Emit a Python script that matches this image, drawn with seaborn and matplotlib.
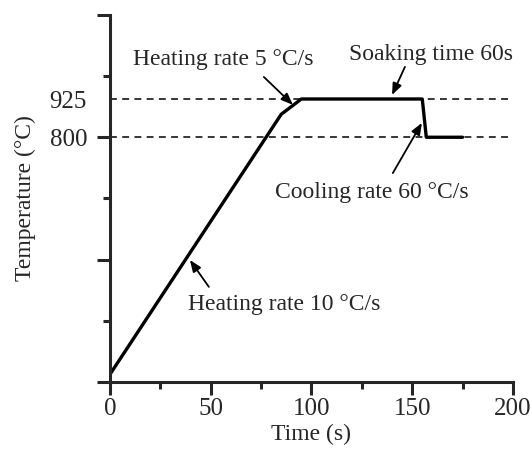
import matplotlib
matplotlib.use("Agg")
import matplotlib.pyplot as plt
import seaborn as sns
from matplotlib.ticker import FixedLocator

# Data
time_s = [0, 85, 95, 155, 157, 175]
temp_c = [25, 875, 925, 925, 800, 800]
ref_levels = [925, 800]
ytick_vals = [0, 400, 800, 925, 1200]
ytick_labels = ["", "", "800", "925", ""]
xtick_vals = [0, 50, 100, 150, 200]
xtick_labels = ["0", "50", "100", "150", "200"]

sns.set_style("ticks")
plt.rcParams["font.family"] = ["Liberation Serif", "DejaVu Serif"]

fig = plt.figure(figsize=(5.31, 4.5), dpi=100)
ax = fig.add_axes([0.207, 0.151, 0.759, 0.816])

sns.lineplot(x=time_s, y=temp_c, ax=ax, color="black", linewidth=2.4)
for lv in ref_levels:
    ax.axhline(lv, color="black", linewidth=1.1, linestyle=(0, (4.5, 3.5)), zorder=1)

ax.set_xlim(0, 200)
ax.set_ylim(0, 1200)
ax.set_xticks(xtick_vals)
ax.set_xticklabels(xtick_labels)
ax.xaxis.set_minor_locator(FixedLocator([25, 75, 125, 175]))
ax.set_yticks(ytick_vals)
ax.set_yticklabels(ytick_labels)
ax.yaxis.set_minor_locator(FixedLocator([200, 600, 1000]))
t925 = ax.yaxis.get_major_ticks()[3]
t925.tick1line.set_visible(False)

for s in ["top", "right"]:
    ax.spines[s].set_visible(False)
for s in ["left", "bottom"]:
    ax.spines[s].set_linewidth(2.2)

ax.tick_params(which="major", direction="out", length=9.5, width=2.2, labelsize=18)
ax.tick_params(axis="x", which="major", pad=2)
ax.tick_params(axis="y", which="major", pad=7)
ax.tick_params(which="minor", direction="out", length=5, width=2.2)

ax.set_xlabel("Time (s)", fontsize=17, labelpad=3)
ax.set_ylabel("Temperature (°C)", fontsize=17, labelpad=10)

fs = 17
ax.text(56.1, 1055, "Heating rate 5 °C/s", fontsize=fs, ha="center", va="center")
ax.text(159.3, 1070, "Soaking time 60s", fontsize=fs, ha="center", va="center")
ax.text(129.8, 621, "Cooling rate 60 °C/s", fontsize=fs, ha="center", va="center")
ax.text(86.6, 252, "Heating rate 10 °C/s", fontsize=fs, ha="center", va="center")

arrows = [((76.4, 997), (90.8, 906)),
          ((146.4, 1030), (140.0, 938)),
          ((140.4, 683), (154.8, 847)),
          ((49.1, 311), (39.7, 399))]
for tail, head in arrows:
    ax.annotate("", xy=head, xytext=tail,
                arrowprops=dict(arrowstyle="-|>,head_length=0.5,head_width=0.2",
                                color="black", lw=1.3,
                                mutation_scale=14, shrinkA=0, shrinkB=0))

fig.savefig("out.png", dpi=100)
